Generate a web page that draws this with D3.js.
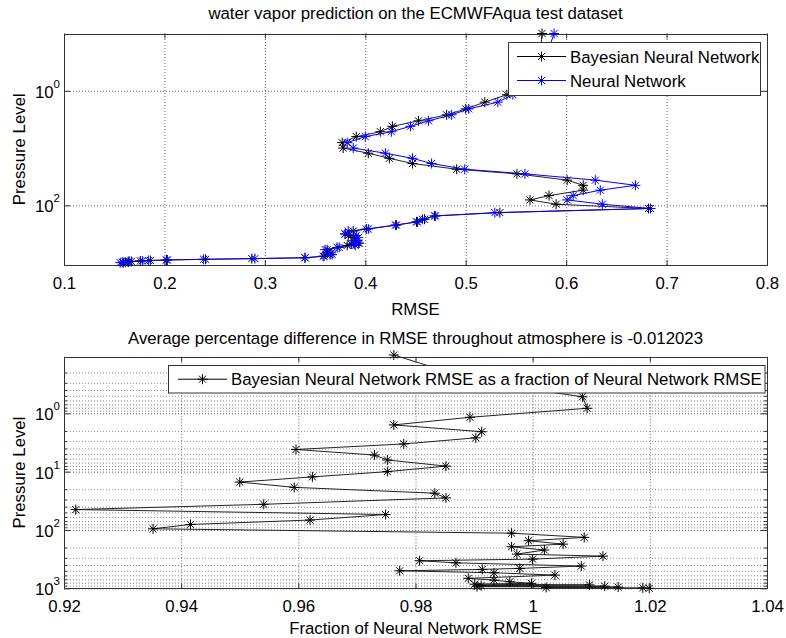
<!DOCTYPE html>
<html>
<head>
<meta charset="utf-8">
<script src="https://cdn.jsdelivr.net/npm/d3@7"></script>
<style>
body { margin: 0; background: #fff; }
svg { display: block; }
svg text { font-family: "Liberation Sans", Arial, sans-serif; font-size: 16.8px; fill: #000; }
</style>
</head>
<body>
<div id="vis"></div>
<script>
// values (pressure levels in hPa, top to surface)
const PRESSURE = [0.1, 0.29, 0.52, 0.82, 1.17, 1.58, 2.07, 2.63, 3.35, 4.17,
	5.19, 6.31, 8.04, 10.0, 12.3, 15.1, 18.6, 23.4, 28.2, 36.3,
	44.7, 54.3, 67.6, 80.4, 95.5, 113.5, 134, 153, 175, 194,
	221, 259, 281, 316, 337, 366, 416, 456, 474, 501,
	542, 594, 676, 724, 773, 822, 851, 875, 899, 918,
	935, 953, 968, 984, 1000];

const BNN_RMSE = [0.576, 0.574, 0.600, 0.585, 0.541, 0.519, 0.500, 0.481, 0.453, 0.427,
	0.415, 0.391, 0.377, 0.378, 0.403, 0.424, 0.447, 0.491, 0.551, 0.601,
	0.617, 0.617, 0.583, 0.564, 0.590, 0.682, 0.534, 0.469, 0.459, 0.451,
	0.431, 0.401, 0.388, 0.380, 0.383, 0.388, 0.392, 0.393, 0.386, 0.382,
	0.372, 0.362, 0.362, 0.365, 0.358, 0.340, 0.287, 0.241, 0.202, 0.186,
	0.176, 0.167, 0.164, 0.161, 0.159];

const NN_RMSE = [0.588, 0.579, 0.595, 0.580, 0.547, 0.532, 0.503, 0.486, 0.463, 0.445,
	0.426, 0.400, 0.382, 0.388, 0.420, 0.447, 0.466, 0.499, 0.559, 0.629,
	0.669, 0.634, 0.607, 0.601, 0.636, 0.684, 0.529, 0.470, 0.457, 0.452,
	0.430, 0.403, 0.383, 0.380, 0.391, 0.393, 0.388, 0.394, 0.389, 0.390,
	0.374, 0.360, 0.366, 0.367, 0.359, 0.340, 0.290, 0.239, 0.203, 0.184,
	0.178, 0.165, 0.164, 0.158, 0.156];

const RMSE_FRACTION = [0.9763, 0.991, 1.0085, 1.0093, 0.9893, 0.9763, 0.9913, 0.9903, 0.978, 0.9596,
	0.973, 0.9752, 0.9852, 0.9752, 0.9624, 0.950, 0.9593, 0.9833, 0.9852, 0.9541,
	0.922, 0.9749, 0.962, 0.9416, 0.9352, 0.9964, 1.0088, 0.9993, 1.0052, 0.9964,
	1.002, 0.9973, 1.012, 1.0000, 0.9807, 0.9869, 1.0083, 0.9978, 0.9914, 0.9773,
	0.9934, 1.0038, 0.989, 0.9934, 0.9961, 0.9998, 0.9901, 1.0097, 0.9912, 1.0123,
	0.9905, 1.0146, 1.0023, 1.0188, 1.0199];

const RMSE_TICKS = [0.1, 0.2, 0.3, 0.4, 0.5, 0.6, 0.7, 0.8];
const FRACTION_TICKS = [0.92, 0.94, 0.96, 0.98, 1, 1.02, 1.04];
const TOP_EXPONENTS = [0, 2];
const BOTTOM_EXPONENTS = [-1, 0, 1, 2, 3];
const BOTTOM_LABELS = [0, 1, 2, 3];

// set constants
const FRAME_WIDTH = 786;
const FRAME_HEIGHT = 638;
const TOP_BOX = {left: 64, right: 767, top: 33.5, bottom: 265};
const BOT_BOX = {left: 64, right: 767, top: 356.8, bottom: 588.3};
const AXIS_COLOR = "#333";
const GRID_COLOR = "#666";

const FRAME = d3.select("#vis")
	.append("svg")
		.attr("width", FRAME_WIDTH)
		.attr("height", FRAME_HEIGHT);

// scales
const X_TOP = d3.scaleLinear().domain([0.1, 0.8]).range([TOP_BOX.left, TOP_BOX.right]);
const Y_TOP = d3.scaleLog().domain([0.1, 1100]).range([TOP_BOX.top, TOP_BOX.bottom]);
const X_BOT = d3.scaleLinear().domain([0.92, 1.04]).range([BOT_BOX.left, BOT_BOX.right]);
const Y_BOT = d3.scaleLog().domain([0.1074, 1000]).range([BOT_BOX.top, BOT_BOX.bottom]);

// matlab style '*' marker
function star(r) {
	const a = r * 0.7071;
	return "M" + (-r) + ",0H" + r + "M0," + (-r) + "V" + r +
		"M" + (-a) + "," + (-a) + "L" + a + "," + a +
		"M" + (-a) + "," + a + "L" + a + "," + (-a);
}

function cleanAxis(sel, color) {
	sel.select(".domain").remove();
	sel.selectAll("line").attr("stroke", color);
}

// grid, ticks and box for one panel
function drawFrame(box, x, y, xTicks, majors, minors) {
	const W = box.right - box.left;
	const H = box.bottom - box.top;
	const g = FRAME.append("g");

	// minor horizontal grid
	if (minors.length) {
		g.append("g")
			.attr("transform", "translate(" + box.left + ",0)")
			.call(d3.axisLeft(y).tickValues(minors).tickSize(-W).tickFormat(""))
			.call(s => cleanAxis(s, "#8a8a8a"))
			.selectAll("line").attr("stroke-dasharray", "1,2");
	}

	// major grid
	g.append("g")
		.attr("transform", "translate(" + box.left + ",0)")
		.call(d3.axisLeft(y).tickValues(majors).tickSize(-W).tickFormat(""))
		.call(s => cleanAxis(s, GRID_COLOR))
		.selectAll("line").attr("stroke-dasharray", "1,2");
	g.append("g")
		.attr("transform", "translate(0," + box.bottom + ")")
		.call(d3.axisBottom(x).tickValues(xTicks.slice(1, -1)).tickSize(-H).tickFormat(""))
		.call(s => cleanAxis(s, GRID_COLOR))
		.selectAll("line").attr("stroke-dasharray", "1,2");

	// x ticks (inside) with labels
	g.append("g")
		.attr("transform", "translate(0," + box.bottom + ")")
		.call(d3.axisBottom(x).tickValues(xTicks).tickSize(-5).tickPadding(12).tickFormat(d => String(d)))
		.call(s => cleanAxis(s, AXIS_COLOR))
		.attr("font-size", null).attr("font-family", null);
	g.append("g")
		.attr("transform", "translate(0," + box.top + ")")
		.call(d3.axisTop(x).tickValues(xTicks).tickSize(-5).tickFormat(""))
		.call(s => cleanAxis(s, AXIS_COLOR));

	// y ticks left and right
	g.append("g")
		.attr("transform", "translate(" + box.left + ",0)")
		.call(d3.axisLeft(y).tickValues(majors).tickSize(-6).tickFormat(""))
		.call(s => cleanAxis(s, AXIS_COLOR));
	g.append("g")
		.attr("transform", "translate(" + box.right + ",0)")
		.call(d3.axisRight(y).tickValues(majors).tickSize(-6).tickFormat(""))
		.call(s => cleanAxis(s, AXIS_COLOR));
	if (minors.length) {
		g.append("g")
			.attr("transform", "translate(" + box.left + ",0)")
			.call(d3.axisLeft(y).tickValues(minors).tickSize(-3).tickFormat(""))
			.call(s => cleanAxis(s, AXIS_COLOR));
		g.append("g")
			.attr("transform", "translate(" + box.right + ",0)")
			.call(d3.axisRight(y).tickValues(minors).tickSize(-3).tickFormat(""))
			.call(s => cleanAxis(s, AXIS_COLOR));
	}

	// box
	g.append("rect")
		.attr("x", box.left + 0.5)
		.attr("y", Math.round(box.top) + 0.5)
		.attr("width", W)
		.attr("height", Math.round(box.bottom) - Math.round(box.top))
		.attr("fill", "none")
		.attr("stroke", AXIS_COLOR);
}

// 10^k labels on the y axis
function expLabels(box, y, exps) {
	const t = FRAME.append("g").selectAll("text")
		.data(exps)
		.enter()
		.append("text")
			.attr("x", box.left - 4)
			.attr("y", d => y(Math.pow(10, d)) + 7)
			.attr("text-anchor", "end");
	t.append("tspan").text("10");
	t.append("tspan")
		.attr("dy", -10)
		.style("font-size", "11.5px")
		.text(d => d);
}

// plot one series with line and star markers
function drawSeries(x, y, values, color, lineColor) {
	const pts = PRESSURE.map((p, i) => ({p: p, v: values[i]}));
	const line = d3.line().x(d => x(d.v)).y(d => y(d.p));
	FRAME.append("path")
		.datum(pts)
		.attr("d", line)
		.attr("fill", "none")
		.attr("stroke", lineColor)
		.attr("stroke-width", 1);
	FRAME.append("g")
		.selectAll("path")
		.data(pts)
		.enter()
		.append("path")
			.attr("transform", d => "translate(" + x(d.v) + "," + y(d.p) + ")")
			.attr("d", star(5))
			.attr("fill", "none")
			.attr("stroke", color)
			.attr("stroke-width", 1);
}

function legendEntry(g, x0, x1, yy, tx, color, label) {
	g.append("line")
		.attr("x1", x0).attr("x2", x1)
		.attr("y1", yy).attr("y2", yy)
		.attr("stroke", color);
	g.append("path")
		.attr("transform", "translate(" + (x0 + x1) / 2 + "," + yy + ")")
		.attr("d", star(5))
		.attr("fill", "none")
		.attr("stroke", color);
	g.append("text")
		.attr("x", tx)
		.attr("y", yy + 6)
		.text(label);
}

// ---------- top panel ----------
drawFrame(TOP_BOX, X_TOP, Y_TOP, RMSE_TICKS, TOP_EXPONENTS.map(e => Math.pow(10, e)), []);
expLabels(TOP_BOX, Y_TOP, TOP_EXPONENTS);
drawSeries(X_TOP, Y_TOP, BNN_RMSE, "#000", "#222");
drawSeries(X_TOP, Y_TOP, NN_RMSE, "#0000ff", "#0000ff");

const LEG1 = FRAME.append("g");
LEG1.append("rect")
	.attr("x", 508.5).attr("y", 42.5)
	.attr("width", 252).attr("height", 53)
	.attr("fill", "#fff").attr("stroke", AXIS_COLOR);
legendEntry(LEG1, 517, 566, 56.5, 570, "#000", "Bayesian Neural Network");
legendEntry(LEG1, 517, 566, 80.5, 570, "#0000ff", "Neural Network");

FRAME.append("text")
	.attr("x", (TOP_BOX.left + TOP_BOX.right) / 2)
	.attr("y", 19)
	.attr("text-anchor", "middle")
	.text("water vapor prediction on the ECMWFAqua test dataset");
FRAME.append("text")
	.attr("x", (TOP_BOX.left + TOP_BOX.right) / 2)
	.attr("y", 315)
	.attr("text-anchor", "middle")
	.text("RMSE");
FRAME.append("text")
	.attr("transform", "translate(25," + (TOP_BOX.top + TOP_BOX.bottom) / 2 + ") rotate(-90)")
	.attr("text-anchor", "middle")
	.text("Pressure Level");

// ---------- bottom panel ----------
const BOT_MAJORS = BOTTOM_EXPONENTS.map(e => Math.pow(10, e));
const BOT_MINORS = [];
BOTTOM_EXPONENTS.slice(0, -1).forEach(e => {
	for (let m = 2; m < 10; m++) {
		const v = m * Math.pow(10, e);
		if (v > Y_BOT.domain()[0] && v < Y_BOT.domain()[1]) BOT_MINORS.push(v);
	}
});
drawFrame(BOT_BOX, X_BOT, Y_BOT, FRACTION_TICKS,
	BOT_MAJORS.filter(v => v >= Y_BOT.domain()[0]), BOT_MINORS);
expLabels(BOT_BOX, Y_BOT, BOTTOM_LABELS);
drawSeries(X_BOT, Y_BOT, RMSE_FRACTION, "#000", "#222");

const LEG2 = FRAME.append("g");
LEG2.append("rect")
	.attr("x", 168.5).attr("y", 365.5)
	.attr("width", 596.5).attr("height", 27.5)
	.attr("fill", "#fff").attr("stroke", AXIS_COLOR);
legendEntry(LEG2, 178, 227, 379.2, 231, "#000", "Bayesian Neural Network RMSE as a fraction of Neural Network RMSE");

FRAME.append("text")
	.attr("x", (BOT_BOX.left + BOT_BOX.right) / 2)
	.attr("y", 344)
	.attr("text-anchor", "middle")
	.text("Average percentage difference in RMSE throughout atmosphere is -0.012023");
FRAME.append("text")
	.attr("x", (BOT_BOX.left + BOT_BOX.right) / 2)
	.attr("y", 634)
	.attr("text-anchor", "middle")
	.text("Fraction of Neural Network RMSE");
FRAME.append("text")
	.attr("transform", "translate(25," + (BOT_BOX.top + BOT_BOX.bottom) / 2 + ") rotate(-90)")
	.attr("text-anchor", "middle")
	.text("Pressure Level");
</script>
</body>
</html>
